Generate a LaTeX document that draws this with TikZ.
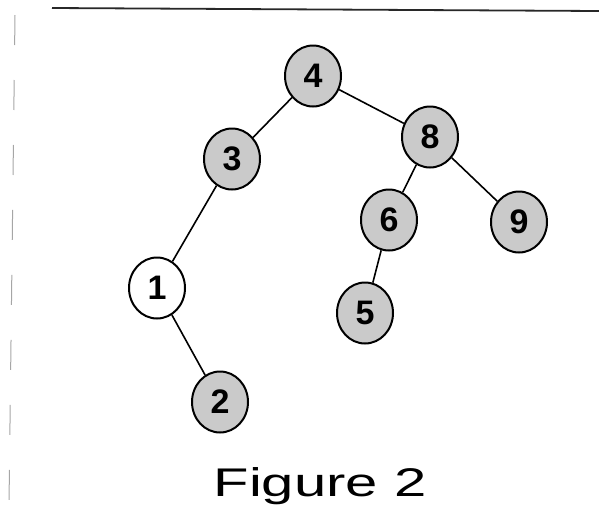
\documentclass[tikz,border=0pt]{standalone}
\usepackage{fontspec}
\setmainfont{Liberation Sans}
\usetikzlibrary{
  shapes.geometric,
  positioning}
\definecolor{keycolor}{RGB}{202,202,202}
\definecolor{scancolor}{RGB}{40,40,40}
\tikzset{
  %% key : a shaded node of the tree
  key/.style={
    ellipse,
    draw=black,
    line width=2pt,
    fill=keycolor,
    minimum width=56pt,
    minimum height=61pt,
    inner sep=0pt,
    font=\fontsize{34}{34}\selectfont\bfseries
  },
  %% plainkey : the one node left blank
  plainkey/.style={
    key,
    fill=white
  },
  %% branch : edge between two nodes
  branch/.style={black, line width=1.6pt},
  %% sheet : the edges of the scanned sheet
  sheet/.style={scancolor, line width=1.8pt},
  sheetleft/.style={gray!70, line width=1pt, dash pattern=on 30pt off 35pt}
}

\begin{document}
\begin{tikzpicture}
  [x=1pt,
  y=-1pt]

  \useasboundingbox (0, 0) rectangle (599, 523);

  %% Sheet edges
  \draw [sheet] (52, 8) -- (599, 11);
  \draw [sheetleft] (15, 15) -- (9, 505);

  %% Tree nodes
  \node (key4) [key] at (313, 76) {4};
  \node (key3) [key] at (232, 159) {3};
  \node (key8) [key] at (430, 137) {8};
  \node (key1) [plainkey] at (157, 288) {1};
  \node (key6) [key] at (389, 220) {6};
  \node (key9) [key] at (519, 222) {9};
  \node (key5) [key] at (365, 313) {5};
  \node (key2) [key] at (220, 402) {2};

  %% Branches
  \draw [branch] (key4) -- (key3);
  \draw [branch] (key4) -- (key8);
  \draw [branch] (key3) -- (key1);
  \draw [branch] (key1) -- (key2);
  \draw [branch] (key8) -- (key6);
  \draw [branch] (key8) -- (key9);
  \draw [branch] (key6) -- (key5);

  %% Caption
  \node (caption) at (320, 486) {%
    \fontsize{40}{40}\selectfont\scalebox{1.45}[1]{Figure 2}};

\end{tikzpicture}
\end{document}
